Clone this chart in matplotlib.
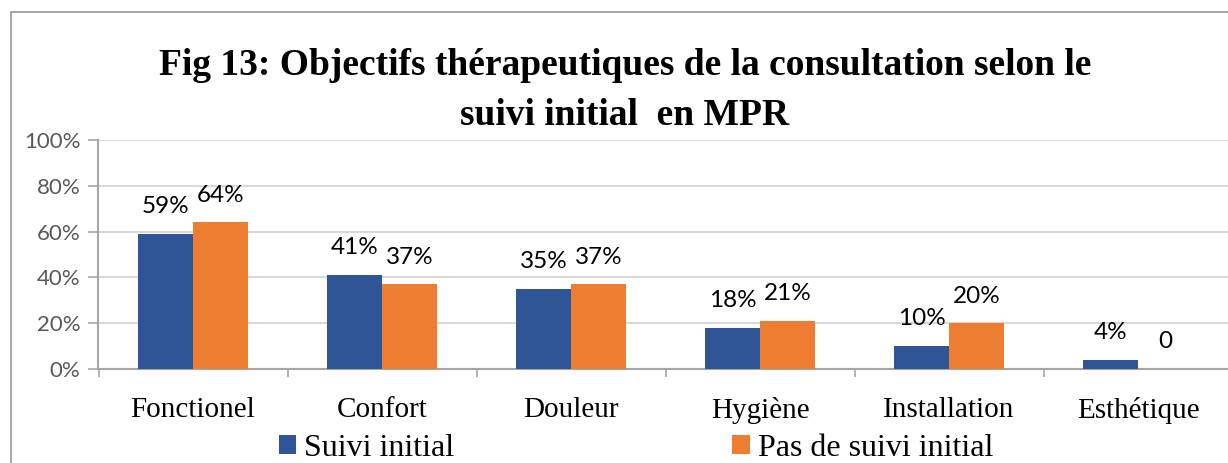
import matplotlib.pyplot as plt
from matplotlib.patches import Rectangle
import numpy as np

# Data
categories = ['Fonctionel', 'Confort', 'Douleur', 'Hygiène', 'Installation', 'Esthétique']
suivi = [59, 41, 35, 18, 10, 4]
pas_suivi = [64, 37, 37, 21, 20, 0]
suivi_labels = ['59%', '41%', '35%', '18%', '10%', '4%']
pas_suivi_labels = ['64%', '37%', '37%', '21%', '20%', '0']
series_names = ['Suivi initial', 'Pas de suivi initial']

blue = '#2F5597'
orange = '#ED7D31'
serif = ['Liberation Serif', 'DejaVu Serif']
sans = ['Lato', 'DejaVu Sans']

fig = plt.figure(figsize=(12.28, 4.63), dpi=100)
ax = fig.add_axes([98.5 / 1228, 94 / 463, 6 * 189 / 1228, 229 / 463])

x = np.arange(len(categories))
w = 0.29
b1 = ax.bar(x - w / 2, suivi, w, color=blue, zorder=3)
b2 = ax.bar(x + w / 2, pas_suivi, w, color=orange, zorder=3)

for bars, labels in [(b1, suivi_labels), (b2, pas_suivi_labels)]:
    for rect, lab in zip(bars, labels):
        ax.annotate(lab, (rect.get_x() + rect.get_width() / 2, rect.get_height()),
                    xytext=(0, 12), textcoords='offset points',
                    ha='center', va='bottom', fontsize=17.5, family=sans, color='black')

ax.set_xlim(-0.5, len(categories) - 0.5)
ax.set_ylim(0, 100)
ax.set_yticks(range(0, 101, 20))
ax.set_yticklabels([f'{v}%' for v in range(0, 101, 20)], family=sans, fontsize=16, color='#595959')
ax.set_xticks(x)
ax.set_xticklabels(categories, family=serif, fontsize=21)
ax.set_xticks(np.arange(-0.5, len(categories), 1), minor=True)
ax.tick_params(axis='x', which='major', length=0, pad=20)
ax.tick_params(axis='x', which='minor', length=6, color='#a6a6a6', width=1.2)
ax.tick_params(axis='y', length=7, color='#a6a6a6', width=1.2, pad=6)

ax.grid(axis='y', color='#d9d9d9', linewidth=1.5, zorder=0)
for side in ['top', 'right']:
    ax.spines[side].set_visible(False)
for side in ['left', 'bottom']:
    ax.spines[side].set_color('#a6a6a6')
    ax.spines[side].set_linewidth(1.5)

fig.text(625 / 1228, 1 - 48 / 463,
         'Fig 13: Objectifs thérapeutiques de la consultation selon le\nsuivi initial  en MPR',
         ha='center', va='top', fontsize=27, fontweight='bold', family=serif,
         linespacing=1.55)

fig.legend([b1, b2], series_names, ncol=2, loc='lower center',
           bbox_to_anchor=(636 / 1228, -0.062), frameon=False,
           prop={'family': serif, 'size': 23}, handlelength=0.55, handleheight=0.55,
           handletextpad=0.25, columnspacing=8.7)

fig.patches.append(Rectangle((10.5 / 1228, -0.05), 1.1, 1 - 11.5 / 463 + 0.05,
                             transform=fig.transFigure, fill=False,
                             edgecolor='#8c8c8c', linewidth=1.1))

fig.savefig('out.png', dpi=100)
